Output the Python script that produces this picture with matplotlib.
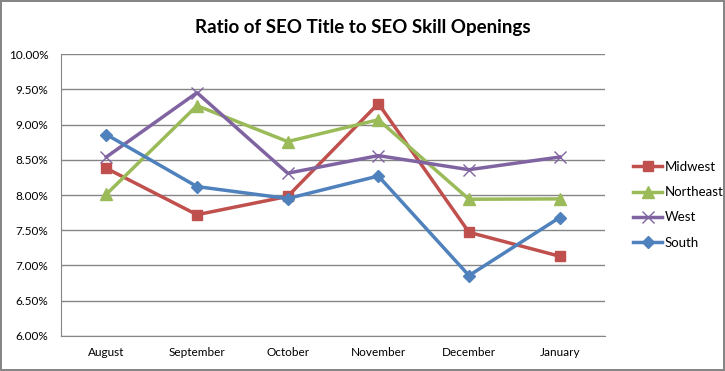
import matplotlib.pyplot as plt
from matplotlib.ticker import FuncFormatter

# data (percent)
months = ["August", "September", "October", "November", "December", "January"]
midwest = [8.38, 7.72, 7.98, 9.30, 7.47, 7.13]
northeast = [8.01, 9.27, 8.76, 9.07, 7.94, 7.945]
west = [8.54, 9.455, 8.31, 8.56, 8.36, 8.54]
south = [8.86, 8.12, 7.95, 8.27, 6.855, 7.68]

plt.rcParams["font.family"] = ["Lato", "DejaVu Sans"]

fig = plt.figure(figsize=(7.25, 3.71), dpi=100)
fig.patch.set_edgecolor("#868686")
fig.patch.set_linewidth(1.5)
ax = fig.add_axes([0.0841, 0.0951, 0.7504, 0.7585])

x = range(len(months))
ax.plot(x, midwest, color="#C0504D", lw=2.5, marker="s", ms=7, label="Midwest")
ax.plot(x, northeast, color="#9BBB59", lw=2.5, marker="^", ms=8, label="Northeast")
ax.plot(x, west, color="#8064A2", lw=2.5, marker="x", ms=8, mew=1, label="West")
ax.plot(x, south, color="#4F81BD", lw=2.5, marker="D", ms=6, label="South")

ax.set_xlim(-0.5, len(months) - 0.5)
ax.set_ylim(6.0, 10.0)
ax.set_yticks([6.0 + 0.5 * i for i in range(9)])
ax.yaxis.set_major_formatter(FuncFormatter(lambda v, p: f"{v:.2f}%"))
ax.set_xticks(list(x))
ax.set_xticklabels(months)
ax.tick_params(length=0, labelsize=8.5, pad=8)
ax.tick_params(axis="y", pad=9)
ax.grid(axis="y", color="#868686", lw=1)
ax.set_axisbelow(True)
for s in ["top", "right"]:
    ax.spines[s].set_visible(False)
for s in ["left", "bottom"]:
    ax.spines[s].set_color("#868686")

ax.legend(loc="center left", bbox_to_anchor=(1.03, 0.465), frameon=False,
          fontsize=9.5, handlelength=2.2, handletextpad=0.2, labelspacing=1.0)

fig.text(0.5, 0.925, "Ratio of SEO Title to SEO Skill Openings", ha="center",
         va="center", fontsize=13.5, fontweight="bold")

fig.savefig("out.png", dpi=100)
